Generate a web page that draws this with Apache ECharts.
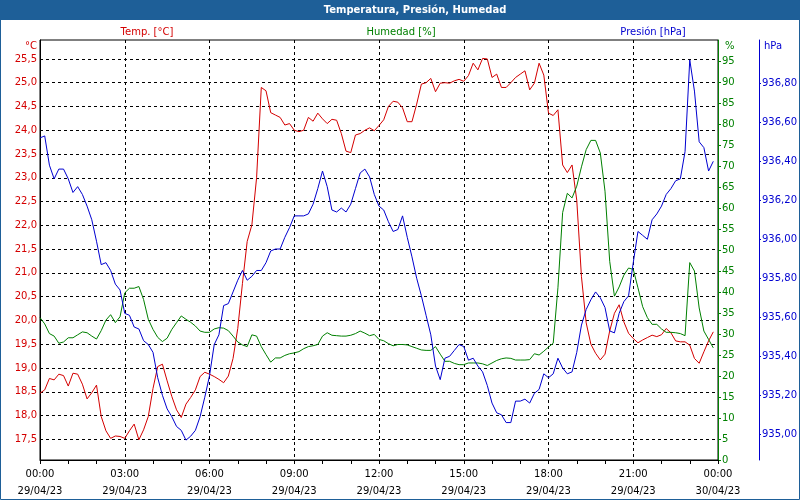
<!DOCTYPE html>
<html>
<head>
<meta charset="utf-8">
<script src="https://cdn.jsdelivr.net/npm/echarts@6/dist/echarts.min.js"></script>
<style>
html,body{margin:0;padding:0;background:#fff;}
#chart{width:800px;height:500px;}
</style>
</head>
<body>
<div id="chart"></div>
<script>
// ---- data (10-minute samples, 29/04/23 00:00 onwards) ----
const tickLabels = ['00:00\n29/04/23','03:00\n29/04/23','06:00\n29/04/23','09:00\n29/04/23','12:00\n29/04/23','15:00\n29/04/23','18:00\n29/04/23','21:00\n29/04/23','00:00\n30/04/23'];
const sampleStepMinutes = 10;

const temperature = [
18.47,18.54,18.78,18.75,18.87,18.84,18.62,18.89,18.87,18.66,18.35,18.48,
18.64,17.98,17.68,17.52,17.57,17.56,17.52,17.68,17.82,17.49,17.70,17.98,
18.57,19.03,19.08,18.73,18.40,18.12,17.96,18.24,18.38,18.54,18.82,18.91,
18.87,18.82,18.76,18.69,18.83,19.20,19.83,20.78,21.66,22.01,23.00,24.90,
24.83,24.37,24.32,24.27,24.11,24.14,24.00,23.97,24.00,24.27,24.19,24.36,
24.24,24.14,24.23,24.21,23.93,23.56,23.53,23.90,23.93,24.00,24.05,23.99,
24.10,24.22,24.50,24.61,24.59,24.47,24.18,24.18,24.55,24.97,25.00,25.09,
24.81,24.99,25.00,24.99,25.04,25.07,25.03,25.15,25.41,25.27,25.51,25.50,
25.11,25.18,24.90,24.90,25.00,25.11,25.18,25.25,24.85,24.99,25.41,25.16,
24.36,24.31,24.43,23.27,23.11,23.27,22.53,20.92,19.95,19.50,19.31,19.17,
19.29,19.78,20.15,20.33,19.97,19.73,19.62,19.53,19.59,19.64,19.69,19.66,
19.70,19.83,19.74,19.57,19.55,19.55,19.48,19.20,19.10,19.34,19.57,19.76
];

const humidity = [
33.9,32.4,30.1,29.5,27.8,28.1,29.1,29.1,29.8,30.5,30.3,29.5,
28.8,30.8,33.3,34.6,32.7,34.1,39.8,40.9,40.9,41.3,38.2,33.5,
31.1,29.2,28.2,29.0,31.1,32.7,34.3,33.5,32.8,31.9,30.7,30.4,
30.4,31.2,31.5,31.4,30.8,29.5,28.1,27.4,27.0,29.8,29.5,27.0,
25.1,23.3,24.3,24.3,24.9,25.3,25.5,25.8,26.5,27.0,27.2,27.5,
29.5,30.3,29.7,29.6,29.5,29.5,29.7,30.1,30.7,30.2,29.6,29.9,
28.7,28.4,27.7,27.2,27.5,27.5,27.4,27.0,26.6,26.2,26.1,26.1,
27.0,25.2,23.5,23.5,23.0,22.7,22.7,23.1,23.1,23.1,22.9,22.5,
23.1,23.7,24.1,24.3,24.2,23.8,23.8,23.8,23.9,25.3,25.0,25.9,
26.9,27.8,41.0,58.9,63.5,62.4,65.2,69.8,73.9,76.1,76.1,73.1,
64.0,47.3,39.0,41.2,44.0,45.7,45.4,41.0,36.5,33.9,32.3,32.3,
31.2,30.4,30.4,30.3,30.1,29.6,47.0,45.0,36.2,30.7,28.7,26.7
];

const pressure = [
936.52,936.53,936.38,936.31,936.36,936.36,936.31,936.24,936.27,936.23,936.17,936.10,
935.99,935.87,935.88,935.84,935.77,935.74,935.62,935.61,935.55,935.54,935.48,935.46,
935.42,935.29,935.20,935.13,935.09,935.04,935.02,934.97,934.99,935.02,935.09,935.19,
935.30,935.46,935.51,935.66,935.67,935.73,935.79,935.84,935.79,935.81,935.84,935.84,
935.88,935.94,935.95,935.95,936.01,936.06,936.12,936.12,936.12,936.13,936.18,936.26,
936.35,936.27,936.15,936.14,936.16,936.14,936.18,936.26,936.34,936.36,936.32,936.23,
936.17,936.15,936.09,936.04,936.05,936.12,936.01,935.91,935.80,935.71,935.61,935.51,
935.35,935.28,935.39,935.40,935.43,935.46,935.45,935.38,935.39,935.35,935.32,935.25,
935.16,935.11,935.10,935.06,935.06,935.17,935.17,935.18,935.16,935.21,935.23,935.31,
935.29,935.31,935.39,935.34,935.31,935.32,935.42,935.56,935.64,935.69,935.73,935.70,
935.65,935.53,935.52,935.62,935.68,935.71,935.88,936.04,936.02,936.00,936.10,936.13,
936.17,936.23,936.26,936.30,936.31,936.45,936.92,936.76,936.50,936.47,936.35,936.40
];

const tempTicks = [17.5,18.0,18.5,19.0,19.5,20.0,20.5,21.0,21.5,22.0,22.5,23.0,23.5,24.0,24.5,25.0,25.5];
const humTicks = [0,5,10,15,20,25,30,35,40,45,50,55,60,65,70,75,80,85,90,95];
const presTicks = [935.0,935.2,935.4,935.6,935.8,936.0,936.2,936.4,936.6,936.8];

// ---- chart ----
const FONT = 'DejaVu Sans';
const RED = '#d40000', GREEN = '#008000', BLUE = '#0000d0', BAR = '#1e5f98';
const toPairs = arr => arr.map((v, i) => [i * sampleStepMinutes, v]);
const comma = (v, d) => v.toFixed(d).replace('.', ',');

const chart = echarts.init(document.getElementById('chart'), null, {renderer: 'canvas'});
chart.setOption({
  animation: false,
  backgroundColor: '#fff',
  textStyle: {fontFamily: FONT},
  grid: {left: 40, right: 80, top: 40, bottom: 40, show: true, borderColor: '#000', borderWidth: 1, backgroundColor: 'transparent'},
  xAxis: {
    type: 'value', min: 0, max: 1440, interval: 180,
    axisLine: {lineStyle: {color: '#000', width: 1}},
    axisTick: {show: true, length: 4, lineStyle: {color: '#000'}},
    minorTick: {show: true, splitNumber: 3, length: 4, lineStyle: {color: '#000'}},
    splitLine: {show: true, lineStyle: {color: '#000', type: [3, 3], width: 1}},
    axisLabel: {color: '#000', fontFamily: FONT, fontSize: 10, lineHeight: 17, margin: 6,
      showMinLabel: true, showMaxLabel: true,
      formatter: v => tickLabels[Math.round(v / 180)] || ''}
  },
  yAxis: [
    {
      type: 'value', position: 'left', min: 17.065, max: 25.898,
      axisLine: {show: true, lineStyle: {color: '#000'}},
      axisTick: {show: false, customValues: tempTicks},
      axisLabel: {color: RED, fontFamily: FONT, fontSize: 10, margin: 3, customValues: tempTicks,
        formatter: v => comma(v, 1)},
      splitLine: {show: true, lineStyle: {color: '#000', type: [3, 3], width: 1}}
    },
    {
      type: 'value', position: 'right', min: 0, max: 100,
      axisLine: {show: true, lineStyle: {color: GREEN}},
      axisTick: {show: true, length: 3, lineStyle: {color: GREEN}, customValues: humTicks},
      axisLabel: {color: GREEN, fontFamily: FONT, fontSize: 10, margin: 4, customValues: humTicks},
      splitLine: {show: false}
    },
    {
      type: 'value', position: 'right', offset: 41, min: 934.868, max: 937.022,
      axisLine: {show: true, lineStyle: {color: BLUE}},
      axisTick: {show: true, length: 2, lineStyle: {color: BLUE}, customValues: presTicks},
      axisLabel: {color: BLUE, fontFamily: FONT, fontSize: 10, margin: 3, customValues: presTicks,
        formatter: v => comma(v, 2)},
      splitLine: {show: false}
    }
  ],
  series: [
    {name: 'Temp. [°C]', type: 'line', yAxisIndex: 0, data: toPairs(temperature), showSymbol: false,
      lineStyle: {color: RED, width: 1}, itemStyle: {color: RED}},
    {name: 'Humedad [%]', type: 'line', yAxisIndex: 1, data: toPairs(humidity), showSymbol: false,
      lineStyle: {color: GREEN, width: 1}, itemStyle: {color: GREEN}},
    {name: 'Presión [hPa]', type: 'line', yAxisIndex: 2, data: toPairs(pressure), showSymbol: false,
      lineStyle: {color: BLUE, width: 1}, itemStyle: {color: BLUE}}
  ],
  graphic: [
    {type: 'rect', shape: {x: 0, y: 0, width: 800, height: 20}, style: {fill: BAR}, z: 10},
    {type: 'text', x: 415, y: 10, z: 11, style: {text: 'Temperatura, Presión, Humedad', fill: '#fff',
      font: 'bold 10px "DejaVu Sans"', textAlign: 'center', textVerticalAlign: 'middle'}},
    {type: 'rect', shape: {x: 0.5, y: 0.5, width: 799, height: 499}, style: {fill: null, stroke: BAR, lineWidth: 1}, z: 12},
    {type: 'text', x: 147, y: 32, style: {text: 'Temp. [°C]', fill: RED, font: '10px "DejaVu Sans"', textAlign: 'center', textVerticalAlign: 'middle'}},
    {type: 'text', x: 401, y: 32, style: {text: 'Humedad [%]', fill: GREEN, font: '10px "DejaVu Sans"', textAlign: 'center', textVerticalAlign: 'middle'}},
    {type: 'text', x: 653, y: 32, style: {text: 'Presión [hPa]', fill: BLUE, font: '10px "DejaVu Sans"', textAlign: 'center', textVerticalAlign: 'middle'}},
    {type: 'text', x: 37, y: 46, style: {text: '°C', fill: RED, font: '10px "DejaVu Sans"', textAlign: 'right', textVerticalAlign: 'middle'}},
    {type: 'text', x: 725, y: 46, style: {text: '%', fill: GREEN, font: '10px "DejaVu Sans"', textAlign: 'left', textVerticalAlign: 'middle'}},
    {type: 'text', x: 764, y: 46, style: {text: 'hPa', fill: BLUE, font: '10px "DejaVu Sans"', textAlign: 'left', textVerticalAlign: 'middle'}}
  ]
});
</script>
</body>
</html>
